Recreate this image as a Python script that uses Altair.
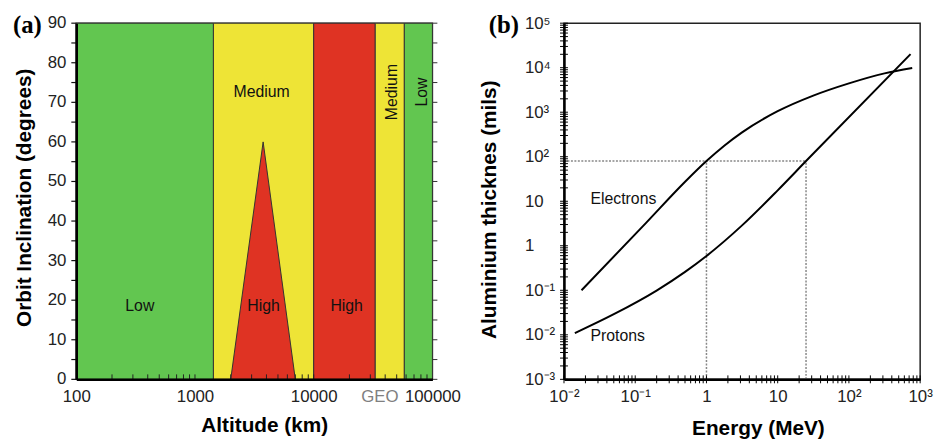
import json
import altair as alt
import pandas as pd

# ---------------- panel (a): radiation hazard vs altitude / inclination ----------------
region_edges = [100, 1430, 10000, 33000, 58000, 100000]
region_levels = ["Low", "Medium", "High", "Medium", "Low"]
level_colors = {"Low": "#62C650", "Medium": "#EEE436", "High": "#DF3323"}

triangle_altitude = [2000, 3750, 7000]
triangle_inclination = [0, 60, 0]

label_text = ["Low", "Medium", "High", "High", "Medium", "Low"]
label_altitude = [343, 3640, 3780, 18950, 45800, 81500]
label_inclination = [18.6, 72.6, 18.6, 18.6, 72.6, 72.6]
label_angle = [0, 0, 0, 0, 270, 270]

alt_tick_values = [100, 1000, 10000, 35786, 100000]
alt_tick_labels = ["100", "1000", "10000", "GEO", "100000"]
alt_minor_ticks = [200, 300, 400, 500, 600, 700, 800, 900, 1000,
                   2000, 3000, 4000, 5000, 6000, 7000, 8000, 9000, 10000,
                   20000, 30000, 40000, 50000, 60000, 70000, 80000, 90000]
inc_label_values = [0, 10, 20, 30, 40, 50, 60, 70, 80, 90]
inc_label_text = ["0", "10", "20", "30", "40", "50", "60", "70", "80", "90"]
inc_tick_values = [0, 5, 10, 15, 20, 25, 30, 35, 40, 45, 50, 55, 60, 65, 70, 75, 80, 85, 90]

# ---------------- panel (b): shielding thickness vs energy ----------------
electron_energy = [0.0176, 0.142, 0.501, 1.0, 1.778, 3.162, 10, 31.6, 100, 316, 774]
electron_thickness = [0.1, 3.27, 27.4, 80, 177, 353, 1054, 2360, 4446, 7464, 9800]
proton_energy = [0.0142, 0.0501, 0.1995, 0.501, 1.0, 3.162, 10, 25, 733]
proton_thickness = [0.0109, 0.029, 0.0984, 0.259, 0.589, 2.87, 17.6, 80, 20200]

ref_thickness = 80
ref_energies = [1, 25]

curve_label_text = ["Electrons", "Protons"]
curve_label_energy = [0.0235, 0.0235]
curve_label_thickness = [11.1, 0.0092]

energy_tick_values = [0.01, 0.1, 1, 10, 100, 1000]
energy_tick_labels = ["10⁻²", "10⁻¹", "1", "10", "10²", "10³"]
thick_tick_values = [0.001, 0.01, 0.1, 1, 10, 100, 1000, 10000, 100000]
thick_tick_labels = ["10⁻³", "10⁻²", "10⁻¹", "1", "10", "10²", "10³", "10⁴", "10⁵"]
decade_minor = [1, 2, 3, 4, 5, 6, 7, 8, 9]

W, H = 360, 360
SANS = "Liberation Sans"
SERIF = "Liberation Serif"


def label_expr(values, labels):
    return "%s[indexof(%s, datum.value)]" % (json.dumps(labels, ensure_ascii=False), json.dumps(values))


# ---------- build panel (a) ----------
reg = pd.DataFrame({
    "x": region_edges[:-1],
    "x2": region_edges[1:],
    "y": [0] * len(region_levels),
    "y2": [90] * len(region_levels),
    "color": [level_colors[l] for l in region_levels],
})
tri = pd.DataFrame({"x": triangle_altitude, "y": triangle_inclination})
labs = pd.DataFrame({"x": label_altitude, "y": label_inclination, "text": label_text, "angle": label_angle})
bottom_ticks_a = pd.DataFrame({"x": alt_minor_ticks})
side_ticks_a = pd.DataFrame({"y": inc_tick_values})
ylabs_a = pd.DataFrame({"y": inc_label_values, "text": inc_label_text})

xs_a = alt.Scale(type="log", domain=[region_edges[0], region_edges[-1]], nice=False)
ys_a = alt.Scale(domain=[0, 90], nice=False)

x_axis_a = alt.Axis(
    values=alt_tick_values, labelExpr=label_expr(alt_tick_values, alt_tick_labels),
    ticks=False, labelPadding=9, labelFontSize=17, labelFont=SANS,
    labelColor={"condition": {"test": "datum.value == 35786", "value": "#808080"}, "value": "#222222"},
    labelOverlap=False, labelFlush=False, grid=False, domainColor="black", domainWidth=2.5,
    title="Altitude (km)", titleFont=SANS, titleFontSize=21, titleFontWeight="bold", titleColor="black",
    titleX=190, titleY=53, titleBaseline="alphabetic", zindex=1,
)
y_axis_a = alt.Axis(
    values=inc_label_values, ticks=False, labels=False, grid=False, domainColor="black", domainWidth=2.5,
    title="Orbit Inclination (degrees)", titleFont=SANS, titleFontSize=21, titleFontWeight="bold",
    titleColor="black", titleX=-52, titleY=176, titleBaseline="middle", zindex=1,
)

rect_a = alt.Chart(reg).mark_rect(stroke="#333333", strokeWidth=1).encode(
    x=alt.X("x:Q", scale=xs_a, axis=x_axis_a),
    x2="x2:Q",
    y=alt.Y("y:Q", scale=ys_a, axis=y_axis_a),
    y2="y2:Q",
    color=alt.Color("color:N", scale=None),
)
tri_a = alt.Chart(tri).mark_area(color=level_colors["High"], stroke="#333333", strokeWidth=1, opacity=1).encode(
    x=alt.X("x:Q", scale=xs_a), y=alt.Y("y:Q", scale=ys_a)
)
text_a = alt.Chart(labs).mark_text(font=SANS, fontSize=16, color="#111111", baseline="middle", align="center").encode(
    x=alt.X("x:Q", scale=xs_a), y=alt.Y("y:Q", scale=ys_a), text="text:N",
    angle=alt.Angle("angle:Q", scale=None),
)
bt_a = alt.Chart(bottom_ticks_a).mark_rule(color="#222222", strokeWidth=1).encode(
    x=alt.X("x:Q", scale=xs_a), y=alt.value(H), y2=alt.value(H - 5)
)
rt_a = alt.Chart(side_ticks_a).mark_rule(color="#333333", strokeWidth=1).encode(
    y=alt.Y("y:Q", scale=ys_a), x=alt.value(W), x2=alt.value(W + 5)
)
lt_a = alt.Chart(side_ticks_a).mark_rule(color="#111111", strokeWidth=1.2).encode(
    y=alt.Y("y:Q", scale=ys_a), x=alt.value(-5), x2=alt.value(0)
)
yl_a = alt.Chart(ylabs_a).mark_text(font=SANS, fontSize=17, color="#222222", align="right", baseline="middle").encode(
    y=alt.Y("y:Q", scale=ys_a), x=alt.value(-10), text="text:N"
)
tag_a = alt.Chart(pd.DataFrame({"t": ["(a)"]})).mark_text(
    font=SERIF, fontSize=25, fontWeight="bold", align="left", baseline="middle", color="black"
).encode(x=alt.value(-64), y=alt.value(2), text="t:N")

panel_a = alt.layer(rect_a, tri_a, text_a, bt_a, rt_a, lt_a, yl_a, tag_a).properties(width=W, height=H)

# ---------- build panel (b) ----------
curves = pd.DataFrame({
    "x": electron_energy + proton_energy,
    "y": electron_thickness + proton_thickness,
    "series": ["Electrons"] * len(electron_energy) + ["Protons"] * len(proton_energy),
})
e_min, e_max = energy_tick_values[0], energy_tick_values[-1]
t_min, t_max = thick_tick_values[0], thick_tick_values[-1]
refs = pd.DataFrame({
    "x": [e_min] + ref_energies,
    "x2": [max(ref_energies)] + ref_energies,
    "y": [ref_thickness] + [t_min] * len(ref_energies),
    "y2": [ref_thickness] * (1 + len(ref_energies)),
})
clabs = pd.DataFrame({"x": curve_label_energy, "y": curve_label_thickness, "text": curve_label_text})
x_minor_b = pd.DataFrame({"x": [m * e for e in energy_tick_values[:-1] for m in decade_minor] + [e_max]})
y_minor_b = pd.DataFrame({"y": [m * t for t in thick_tick_values[:-1] for m in decade_minor] + [t_max]})

xs_b = alt.Scale(type="log", domain=[e_min, e_max], nice=False)
ys_b = alt.Scale(type="log", domain=[t_min, t_max], nice=False)

x_axis_b = alt.Axis(
    values=energy_tick_values, labelExpr=label_expr(energy_tick_values, energy_tick_labels),
    ticks=False, labelPadding=9, labelFontSize=17, labelFont=SANS, labelColor="#222222",
    labelOverlap=False, labelFlush=False, grid=False, domainColor="black", domainWidth=2.5,
    title="Energy (MeV)", titleFont=SANS, titleFontSize=21, titleFontWeight="bold", titleColor="black",
    titleX=196, titleY=56, titleBaseline="alphabetic", zindex=1,
)
y_axis_b = alt.Axis(
    values=thick_tick_values, labelExpr=label_expr(thick_tick_values, thick_tick_labels),
    ticks=False, labelAlign="left", labelPadding=40, labelFontSize=17, labelFont=SANS, labelColor="#222222",
    labelOverlap=False, grid=False, domainColor="black", domainWidth=2.5,
    title="Aluminium thicknes (mils)", titleFont=SANS, titleFontSize=21, titleFontWeight="bold",
    titleColor="black", titleX=-75, titleY=188, titleBaseline="middle", zindex=1,
)

lines_b = alt.Chart(curves).mark_line(color="black", strokeWidth=2, interpolate="monotone").encode(
    x=alt.X("x:Q", scale=xs_b, axis=x_axis_b),
    y=alt.Y("y:Q", scale=ys_b, axis=y_axis_b),
    detail="series:N",
)
refs_b = alt.Chart(refs).mark_rule(color="#888888", strokeWidth=1.5, strokeDash=[2, 1.5]).encode(
    x=alt.X("x:Q", scale=xs_b), x2="x2:Q", y=alt.Y("y:Q", scale=ys_b), y2="y2:Q"
)
text_b = alt.Chart(clabs).mark_text(font=SANS, fontSize=16, color="#111111", align="left", baseline="middle").encode(
    x=alt.X("x:Q", scale=xs_b), y=alt.Y("y:Q", scale=ys_b), text="text:N"
)
bt_b = alt.Chart(x_minor_b).mark_rule(color="black", strokeWidth=1).encode(
    x=alt.X("x:Q", scale=xs_b), y=alt.value(H - 4), y2=alt.value(H + 4)
)
lt_b = alt.Chart(y_minor_b).mark_rule(color="black", strokeWidth=1).encode(
    y=alt.Y("y:Q", scale=ys_b), x=alt.value(-4), x2=alt.value(4)
)
tag_b = alt.Chart(pd.DataFrame({"t": ["(b)"]})).mark_text(
    font=SERIF, fontSize=25, fontWeight="bold", align="left", baseline="middle", color="black"
).encode(x=alt.value(-76), y=alt.value(2), text="t:N")

panel_b = alt.layer(refs_b, lines_b, text_b, bt_b, lt_b, tag_b).properties(width=W, height=H)

chart = alt.hconcat(panel_a, panel_b, spacing=133, bounds="flush").properties(
    padding={"left": 4, "top": 2, "right": 0, "bottom": 0}, background="white"
).configure_view(stroke="#222222", strokeWidth=1.5)

chart.save("out.html", embed_options={"renderer": "svg", "actions": False})
